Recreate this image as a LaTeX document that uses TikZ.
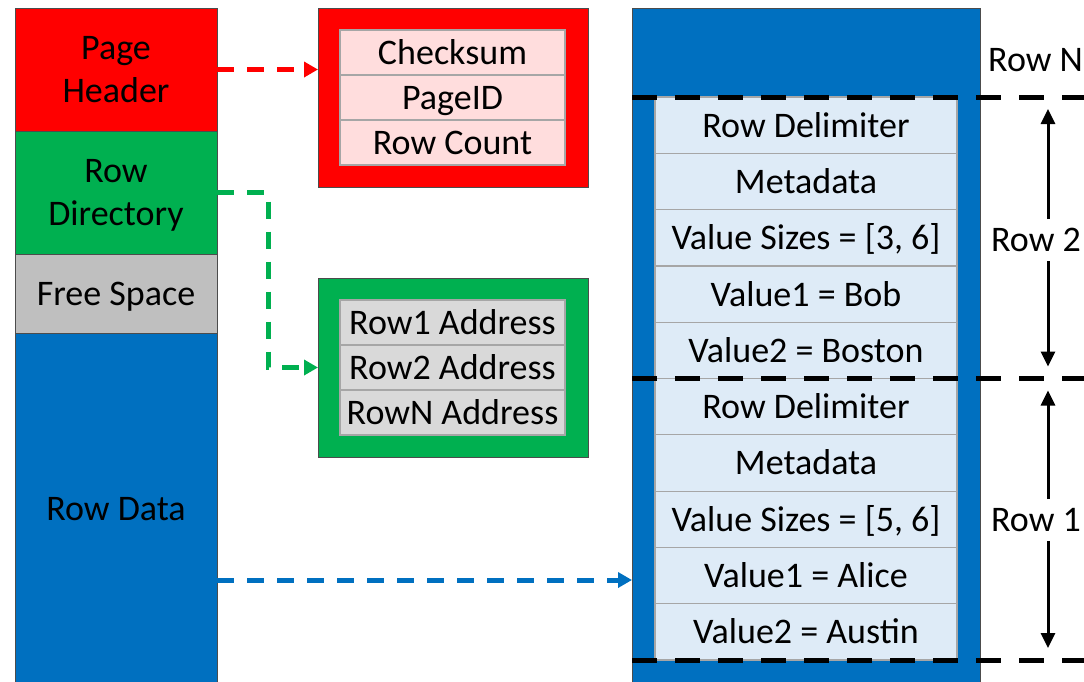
\documentclass[tikz,border=0pt]{standalone}
\usepackage{fontspec}
\setmainfont{Carlito}
\usepackage{xcolor}
\usepackage{tikz}
\usetikzlibrary{arrows.meta, positioning, calc}

\definecolor{hdrred}{HTML}{FF0000}
\definecolor{dirgreen}{HTML}{00B050}
\definecolor{freegray}{HTML}{BFBFBF}
\definecolor{datablue}{HTML}{0070C0}
\definecolor{hdrcell}{HTML}{FFDDDD}
\definecolor{dircell}{HTML}{D9D9D9}
\definecolor{datacell}{HTML}{DEEBF7}

\begin{document}
\begin{tikzpicture}[x=1pt, y=-1pt,
		font=\fontsize{36}{43}\selectfont,
		seg/.style={draw=black!70, line width=1pt, minimum width=202pt, align=center, inner sep=0pt, outer sep=0pt, text depth=0pt},
		outerbox/.style={draw=black!70, line width=1pt, minimum width=270pt, minimum height=179pt, inner sep=0pt, outer sep=0pt},
		cell/.style={draw=black!35, line width=1.2pt, minimum width=225pt, minimum height=45pt, inner sep=0pt, outer sep=0pt, text height=24pt, text depth=0pt},
		field/.style={cell, fill=datacell, minimum width=302pt, minimum height=56.3pt},
		link/.style={line width=5pt, dash pattern=on 17pt off 13pt, -{Triangle[length=14pt, width=15pt]}},
		rowcut/.style={line width=5pt, dash pattern=on 25pt off 18pt},
		rowspan/.style={line width=3pt, -{Triangle[length=15pt, width=14pt]}, shorten >=12pt},
		rowlabel/.style={inner xsep=0pt, inner ysep=9pt}]
	\useasboundingbox (0,0) rectangle (1084,681);

	% Page layout (left column)
	\node[seg, fill=hdrred, minimum height=123pt] (hdr) at (116,69.5) {Page\\Header};
	\node[seg, fill=dirgreen, minimum height=123pt, below=0pt of hdr] (dir) {Row\\Directory};
	\node[seg, fill=freegray, minimum height=79pt, below=0pt of dir] (free) {Free Space};
	\node[seg, fill=datablue, minimum height=352pt, below=0pt of free] (data) {Row Data};

	% Header fields
	\node[outerbox, fill=hdrred] (hdrbox) at (453,97.5) {};
	\node[cell, fill=hdrcell] (cksum) at (452.5,52.5) {Checksum};
	\node[cell, fill=hdrcell, below=0pt of cksum] (pgid) {PageID};
	\node[cell, fill=hdrcell, below=0pt of pgid] (cnt) {Row Count};

	% Directory entries
	\node[outerbox, fill=dirgreen] (dirbox) at (453,367.5) {};
	\node[cell, fill=dircell] (addr1) at (452.5,322.5) {Row1 Address};
	\node[cell, fill=dircell, below=0pt of addr1] (addr2) {Row2 Address};
	\node[cell, fill=dircell, below=0pt of addr2] (addrn) {RowN Address};

	% Row data, stored bottom up
	\node[draw=black!70, line width=1pt, fill=datablue, minimum width=348pt, minimum height=690pt, inner sep=0pt, outer sep=0pt] (page) at (806,353) {};
	\node[field] (r2delim) at (806,125.15) {Row Delimiter};
	\node[field, below=0pt of r2delim] (r2meta) {Metadata};
	\node[field, below=0pt of r2meta] (r2sizes) {Value Sizes = [3, 6]};
	\node[field, below=0pt of r2sizes] (r2val1) {Value1 = Bob};
	\node[field, below=0pt of r2val1] (r2val2) {Value2 = Boston};
	\node[field, below=0pt of r2val2] (r1delim) {Row Delimiter};
	\node[field, below=0pt of r1delim] (r1meta) {Metadata};
	\node[field, below=0pt of r1meta] (r1sizes) {Value Sizes = [5, 6]};
	\node[field, below=0pt of r1sizes] (r1val1) {Value1 = Alice};
	\node[field, below=0pt of r1val1] (r1val2) {Value2 = Austin};

	% Row boundaries
	\coordinate (cut2) at (r2delim.north -| page.west);
	\coordinate (cut1) at (r1delim.north -| page.west);
	\coordinate (cut0) at (r1val2.south -| page.west);
	\draw[rowcut] (cut2) -- ++(460,0);
	\draw[rowcut] (cut1) -- ++(460,0);
	\draw[rowcut] (cut0) -- ++(460,0);

	% Row labels
	\node[rowlabel, anchor=west] (rown) at (988,60) {Row N};
	\node[rowlabel] (rowtwo) at (1036,240) {Row 2};
	\node[rowlabel] (rowone) at (1036,520) {Row 1};
	\draw[rowspan] ([xshift=12pt]rowtwo.north) -- ([xshift=12pt]rowtwo.north |- cut2);
	\draw[rowspan] ([xshift=12pt]rowtwo.south) -- ([xshift=12pt]rowtwo.south |- cut1);
	\draw[rowspan] ([xshift=12pt]rowone.north) -- ([xshift=12pt]rowone.north |- cut1);
	\draw[rowspan] ([xshift=12pt]rowone.south) -- ([xshift=12pt]rowone.south |- cut0);

	% Pointers
	\draw[link, hdrred] (hdr.east) -- (hdr.east -| hdrbox.west);
	\draw[link, dirgreen] (dir.east) -- ++(51,0) |- (dirbox.west);
	\coordinate (dataout) at ([yshift=-71pt]data.east);
	\draw[link, datablue] (dataout) -- (dataout -| page.west);
\end{tikzpicture}
\end{document}
